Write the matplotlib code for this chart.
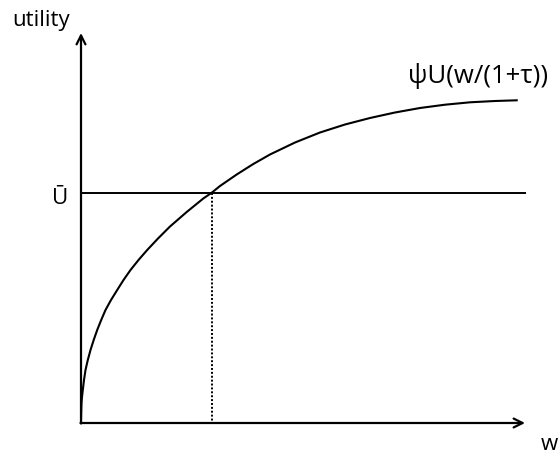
import numpy as np
import matplotlib
matplotlib.use("Agg")
import matplotlib.pyplot as plt

# curve psi*U(w/(1+tau)) (w, utility)
w_vals = [0, 0.2, 0.5, 1.0, 1.8, 3, 4.5, 6.8, 9.5, 12.7, 16.2, 20.2, 24.5, 30, 36.2,
          42.5, 49.5, 57.5, 66.2, 77, 89, 105.7, 122.3, 131, 139, 155.7, 172.3, 189,
          214, 239, 264, 289, 314, 339, 364, 389, 414, 435.7]
u_vals = [0, 10, 19.7, 26, 33, 43, 53, 63, 73, 83, 93, 103, 113, 123, 133,
          143, 153, 163, 173, 184.5, 196.5, 211, 224.5, 230.5, 237, 248.5, 259, 268.5,
          280.5, 290.5, 298.5, 305, 310.5, 315, 318.3, 320.7, 322, 322.7]
u_bar = 230.5
w_star = 131
w_max = 444
u_max = 390

fam = ['Open Sans', 'DejaVu Sans']
fig = plt.figure(figsize=(5.59, 4.55), dpi=100)
ax = fig.add_axes([0, 0, 1, 1])
ax.set_xlim(-81, 478)
ax.set_ylim(-32, 423)
ax.axis('off')

#axes with arrow heads
arrow = dict(arrowstyle='->', lw=1.6, color='black', mutation_scale=16, shrinkA=0, shrinkB=0)
ax.annotate('', xy=(w_max, 0), xytext=(-0.5, 0), arrowprops=arrow)
ax.annotate('', xy=(0, u_max), xytext=(0, -0.5), arrowprops=arrow)

#utility curve, reservation utility and the cut-off wage
ax.plot(w_vals, u_vals, color='black', lw=1.5, solid_joinstyle='round')
ax.plot([0, w_max], [u_bar, u_bar], color='black', lw=1.4)
ax.plot([w_star, w_star], [u_bar, 2], color='black', lw=1.4, linestyle=(0, (1, 1)))

#labels
ax.text(-69, 397, 'utility', fontsize=16, family=fam, va='baseline', ha='left')
ax.text(-21, 224, '\u016a', fontsize=16, family=fam, va='center', ha='center')
ax.text(468, -22, 'w', fontsize=16, family=fam, va='center', ha='center')
ax.text(327, 340, '\u03c8U(w/(1+\u03c4))', fontsize=18.5, family=fam, va='baseline', ha='left')

fig.savefig('out.png', dpi=100)
